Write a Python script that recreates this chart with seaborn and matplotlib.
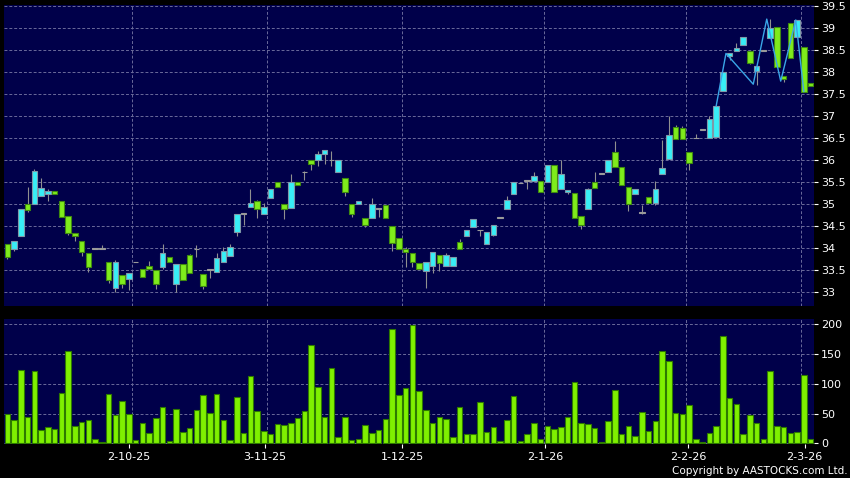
import matplotlib
matplotlib.use("Agg")
import matplotlib.pyplot as plt
import numpy as np
import pandas as pd
import seaborn as sns

# daily OHLC, one entry per trading day
opens = [34.09, 33.98, 34.27, 35.00, 35.00, 35.20, 35.23, 35.30, 35.08, 34.73,
         34.34, 34.17, 33.89, 33.99, 33.99, 33.68, 33.09, 33.39, 33.30, 33.68,
         33.52, 33.60, 33.50, 33.58, 33.80, 33.20, 33.64, 33.84, 33.98, 33.42,
         33.51, 33.47, 33.68, 33.83, 34.38, 34.79, 34.95, 35.07, 34.79, 35.15,
         35.50, 35.00, 34.91, 35.50, 35.73, 36.00, 36.00, 36.14, 36.00, 35.73,
         35.59, 35.00, 35.01, 34.70, 34.70, 34.90, 34.98, 34.50, 34.24, 33.98,
         33.89, 33.66, 33.48, 33.60, 33.86, 33.59, 33.59, 34.14, 34.29, 34.49,
         34.41, 34.11, 34.31, 34.69, 34.89, 35.23, 35.48, 35.54, 35.54, 35.54,
         35.50, 35.89, 35.36, 35.27, 35.25, 34.74, 34.90, 35.50, 35.70, 35.73,
         36.20, 35.86, 35.39, 35.23, 34.81, 35.16, 35.04, 35.70, 36.04, 36.75,
         36.73, 36.19, 36.50, 36.70, 36.50, 36.54, 37.58, 38.38, 38.49, 38.61,
         38.49, 38.04, 38.49, 38.77, 39.02, 37.91, 39.11, 38.81, 38.58, 37.76]
highs = [34.09, 34.17, 34.89, 35.39, 35.80, 35.59, 35.35, 35.30, 35.08, 34.73,
         34.34, 34.17, 33.89, 34.00, 34.07, 33.68, 33.73, 33.39, 33.43, 33.68,
         33.52, 33.71, 33.50, 34.10, 33.80, 33.64, 33.64, 33.87, 34.08, 33.42,
         33.51, 33.89, 34.04, 34.10, 34.77, 34.79, 35.36, 35.10, 35.04, 35.35,
         35.50, 35.00, 35.69, 35.50, 35.75, 36.00, 36.22, 36.23, 36.21, 36.00,
         35.59, 35.00, 35.07, 34.70, 35.14, 34.90, 34.98, 34.50, 34.24, 34.04,
         33.89, 33.66, 33.68, 33.91, 33.86, 33.89, 33.80, 34.21, 34.42, 34.66,
         34.41, 34.38, 34.54, 34.69, 35.19, 35.50, 35.48, 35.54, 35.73, 35.54,
         35.89, 35.89, 36.01, 35.33, 35.25, 34.74, 35.38, 35.73, 35.70, 36.00,
         36.44, 35.86, 35.39, 35.35, 34.98, 35.16, 35.53, 36.46, 37.01, 36.80,
         36.78, 36.19, 36.60, 36.70, 37.00, 37.23, 38.00, 38.45, 38.67, 38.80,
         38.49, 38.14, 38.49, 39.21, 39.02, 37.91, 39.11, 39.20, 38.58, 37.76]
lows = [33.75, 33.95, 34.27, 34.83, 35.00, 35.20, 35.08, 35.23, 34.72, 34.30,
        34.17, 33.83, 33.47, 33.99, 33.99, 33.22, 33.00, 33.11, 33.05, 33.68,
        33.36, 33.54, 33.07, 33.52, 33.70, 33.00, 33.27, 33.43, 33.80, 33.08,
        33.33, 33.47, 33.68, 33.83, 34.29, 34.53, 34.95, 34.70, 34.79, 35.15,
        35.39, 34.67, 34.91, 35.43, 35.55, 35.78, 35.88, 35.91, 35.88, 35.73,
        35.19, 34.72, 35.01, 34.49, 34.70, 34.72, 34.70, 33.95, 33.99, 33.58,
        33.58, 33.52, 33.09, 33.43, 33.48, 33.59, 33.59, 33.99, 34.29, 34.49,
        34.28, 34.11, 34.27, 34.69, 34.89, 35.23, 35.48, 35.36, 35.54, 35.27,
        35.50, 35.29, 35.36, 35.23, 34.70, 34.43, 34.90, 35.38, 35.70, 35.73,
        35.86, 35.45, 34.86, 35.23, 34.78, 35.04, 34.98, 35.70, 36.04, 36.48,
        36.48, 35.78, 36.50, 36.70, 36.50, 36.54, 37.58, 38.28, 38.49, 38.61,
        38.18, 37.71, 38.49, 38.77, 38.13, 37.79, 38.32, 38.81, 37.56, 37.70]
closes = [33.81, 34.17, 34.89, 34.87, 35.76, 35.37, 35.30, 35.23, 34.72, 34.36,
          34.29, 33.92, 33.58, 33.99, 33.99, 33.27, 33.68, 33.20, 33.43, 33.68,
          33.36, 33.54, 33.20, 33.89, 33.70, 33.64, 33.27, 33.43, 33.98, 33.15,
          33.51, 33.79, 33.95, 34.02, 34.77, 34.79, 35.04, 34.89, 34.93, 35.35,
          35.39, 34.90, 35.50, 35.43, 35.73, 35.92, 36.14, 36.23, 36.00, 36.00,
          35.29, 34.79, 35.07, 34.54, 35.00, 34.90, 34.70, 34.13, 33.99, 33.91,
          33.68, 33.52, 33.68, 33.91, 33.66, 33.84, 33.80, 33.99, 34.42, 34.66,
          34.41, 34.38, 34.54, 34.69, 35.11, 35.50, 35.48, 35.54, 35.64, 35.27,
          35.89, 35.29, 35.69, 35.33, 34.70, 34.54, 35.34, 35.38, 35.70, 36.00,
          35.86, 35.45, 35.00, 35.35, 34.81, 35.04, 35.34, 35.82, 36.57, 36.48,
          36.48, 35.95, 36.50, 36.70, 36.95, 37.23, 38.00, 38.45, 38.56, 38.80,
          38.22, 38.14, 38.49, 39.00, 38.13, 37.84, 38.32, 39.20, 37.56, 37.70]
volumes = [49, 40, 123, 44, 122, 22, 27, 24, 85, 156,
           30, 36, 39, 8, 3, 83, 48, 72, 49, 6,
           34, 18, 42, 61, 4, 57, 20, 26, 56, 81,
           51, 83, 39, 5, 78, 17, 113, 54, 21, 16,
           33, 31, 34, 42, 54, 165, 94, 44, 127, 11,
           44, 6, 8, 31, 18, 22, 41, 192, 81, 93,
           199, 88, 56, 35, 44, 41, 10, 62, 16, 15,
           70, 19, 27, 4, 39, 79, 4, 15, 35, 8,
           30, 25, 27, 44, 103, 35, 33, 26, 3, 38,
           90, 16, 29, 12, 53, 21, 37, 156, 138, 51,
           49, 65, 8, 2, 17, 29, 181, 77, 66, 15,
           48, 34, 8, 121, 30, 28, 18, 20, 115, 8]

# thin blue line drawn over the last weeks
line_x = [105, 106.46, 110.5, 112.5, 114.57, 116.8, 118]
line_y = [37.23, 38.43, 37.73, 39.21, 37.80, 39.19, 37.56]

date_labels = ["2-10-25", "3-11-25", "1-12-25", "2-1-26", "2-2-26", "2-3-26"]
date_ticks = [18.0, 38.2, 58.5, 79.7, 100.9, 118.1]
month_lines = [18.5, 38.5, 58.5, 79.5, 100.5, 117.5]
price_ticks = [33, 33.5, 34, 34.5, 35, 35.5, 36, 36.5, 37, 37.5, 38, 38.5, 39, 39.5]
vol_ticks = [0, 50, 100, 150, 200]

sns.set_theme(style="dark")
plt.rcParams['font.family'] = ['DejaVu Sans']

bg = '#00004a'
grid_col = '#6a6a9a'
up_fill, up_edge = '#38eef6', '#7f98a8'
dn_fill, dn_edge = '#7fec1c', '#3f8a10'
doji_col = '#9a9a9a'

df = pd.DataFrame({"open": opens, "high": highs, "low": lows,
                   "close": closes, "volume": volumes})
df["idx"] = np.arange(len(df))

fig = plt.figure(figsize=(8.5, 4.78), dpi=100, facecolor='black')
ax1 = fig.add_axes([4 / 850, 1 - 306 / 478, 810 / 850, 301 / 478])
ax2 = fig.add_axes([4 / 850, 1 - 444 / 478, 810 / 850, 125 / 478])

# candles
body_lo = df[["open", "close"]].min(axis=1)
body_h = (df["close"] - df["open"]).abs()
fills, edges = [], []
for o, c in zip(df["open"], df["close"]):
    if c > o:
        fills.append(up_fill); edges.append(up_edge)
    elif c < o:
        fills.append(dn_fill); edges.append(dn_edge)
    else:
        fills.append(doji_col); edges.append(doji_col)
ax1.vlines(df["idx"], df["low"], df["high"], color='#909090', lw=0.8, zorder=2)
ax1.bar(df["idx"], body_h.clip(lower=0.012), bottom=body_lo, width=0.84,
        color=fills, edgecolor=edges, linewidth=0.8, zorder=3)
sns.lineplot(x=line_x, y=line_y, ax=ax1, color='#3aa6e8', lw=1.0, zorder=4)

# volume
sns.barplot(data=df, x="idx", y="volume", ax=ax2, native_scale=True,
            color='#7ff000', saturation=1, width=0.84, errorbar=None,
            edgecolor='#2e7a00', linewidth=0.8, zorder=3)

for ax in (ax1, ax2):
    ax.set_facecolor(bg)
    ax.set_xlim(-0.5, 119.5)
    for s in ax.spines.values():
        s.set_visible(False)
    ax.yaxis.tick_right()
    ax.set_xlabel("")
    ax.set_ylabel("")
    ax.set_xticks(month_lines, minor=True)
    ax.grid(False)
    ax.grid(True, which='minor', axis='x', color=grid_col, lw=0.7,
            linestyle=(0, (3, 2)))
    ax.grid(True, which='major', axis='y', color=grid_col, lw=0.7,
            linestyle=(0, (3, 2)))
    ax.tick_params(axis='y', colors='white', length=3, width=0.8, pad=2,
                   labelsize=8, right=True, labelright=True, left=False)
    ax.tick_params(axis='x', which='minor', length=0)
    ax.set_axisbelow(True)

ax1.set_ylim(32.69, 39.53)
ax1.set_yticks(price_ticks)
ax1.set_yticklabels(["{:g}".format(v) for v in price_ticks])
ax1.set_xticks([])
ax1.set_xticks(month_lines, minor=True)

ax2.set_ylim(-1, 209)
ax2.set_yticks(vol_ticks)
ax2.set_yticklabels([str(v) for v in vol_ticks])
ax2.set_xticks(date_ticks)
ax2.set_xticklabels(date_labels)
ax2.tick_params(axis='x', which='major', colors='white', length=3, width=0.8,
                pad=3, labelsize=8, bottom=True)

fig.text(0.997, 0.004, "Copyright by AASTOCKS.com Ltd.", color='white',
         fontsize=7.5, ha='right', va='bottom',
         family=['Liberation Sans Narrow', 'DejaVu Sans'])

fig.savefig("out.png", dpi=100, facecolor='black')
